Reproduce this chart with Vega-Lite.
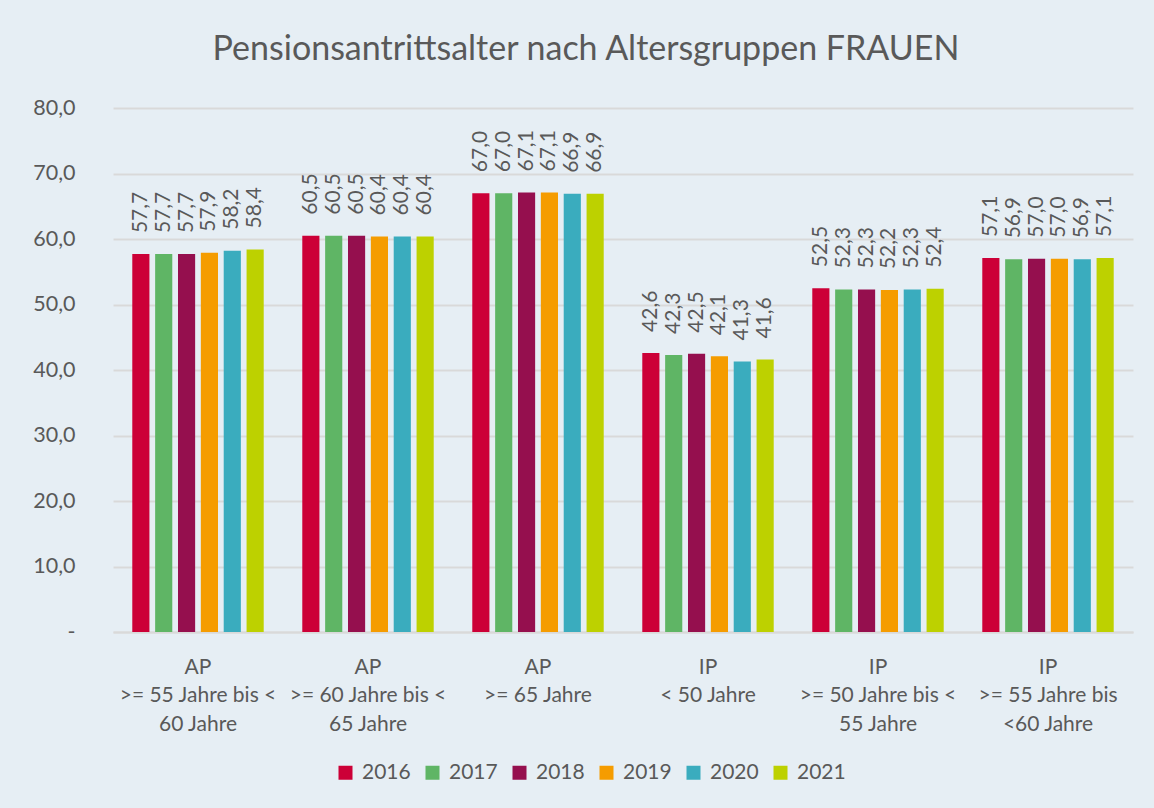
{
  "$schema": "https://vega.github.io/schema/vega-lite/v6.json",
  "width": 1020,
  "height": 524,
  "autosize": {"type": "none"},
  "padding": {"left": 113, "top": 108, "right": 21, "bottom": 176},
  "background": "#e6eef4",
  "title": {
    "text": "Pensionsantrittsalter nach Altersgruppen FRAUEN",
    "font": "Lato",
    "fontSize": 34,
    "fontWeight": "normal",
    "color": "#595959",
    "anchor": "middle",
    "dx": -37,
    "offset": 30
  },
  "data": {
    "values": [
      {"g": "AP|>= 55 Jahre bis <|60 Jahre", "year": "2016", "v": 57.7},
      {"g": "AP|>= 55 Jahre bis <|60 Jahre", "year": "2017", "v": 57.7},
      {"g": "AP|>= 55 Jahre bis <|60 Jahre", "year": "2018", "v": 57.7},
      {"g": "AP|>= 55 Jahre bis <|60 Jahre", "year": "2019", "v": 57.9},
      {"g": "AP|>= 55 Jahre bis <|60 Jahre", "year": "2020", "v": 58.2},
      {"g": "AP|>= 55 Jahre bis <|60 Jahre", "year": "2021", "v": 58.4},
      {"g": "AP|>= 60 Jahre bis <|65 Jahre", "year": "2016", "v": 60.5},
      {"g": "AP|>= 60 Jahre bis <|65 Jahre", "year": "2017", "v": 60.5},
      {"g": "AP|>= 60 Jahre bis <|65 Jahre", "year": "2018", "v": 60.5},
      {"g": "AP|>= 60 Jahre bis <|65 Jahre", "year": "2019", "v": 60.4},
      {"g": "AP|>= 60 Jahre bis <|65 Jahre", "year": "2020", "v": 60.4},
      {"g": "AP|>= 60 Jahre bis <|65 Jahre", "year": "2021", "v": 60.4},
      {"g": "AP|>= 65 Jahre", "year": "2016", "v": 67.0},
      {"g": "AP|>= 65 Jahre", "year": "2017", "v": 67.0},
      {"g": "AP|>= 65 Jahre", "year": "2018", "v": 67.1},
      {"g": "AP|>= 65 Jahre", "year": "2019", "v": 67.1},
      {"g": "AP|>= 65 Jahre", "year": "2020", "v": 66.9},
      {"g": "AP|>= 65 Jahre", "year": "2021", "v": 66.9},
      {"g": "IP|< 50 Jahre", "year": "2016", "v": 42.6},
      {"g": "IP|< 50 Jahre", "year": "2017", "v": 42.3},
      {"g": "IP|< 50 Jahre", "year": "2018", "v": 42.5},
      {"g": "IP|< 50 Jahre", "year": "2019", "v": 42.1},
      {"g": "IP|< 50 Jahre", "year": "2020", "v": 41.3},
      {"g": "IP|< 50 Jahre", "year": "2021", "v": 41.6},
      {"g": "IP|>= 50 Jahre bis <|55 Jahre", "year": "2016", "v": 52.5},
      {"g": "IP|>= 50 Jahre bis <|55 Jahre", "year": "2017", "v": 52.3},
      {"g": "IP|>= 50 Jahre bis <|55 Jahre", "year": "2018", "v": 52.3},
      {"g": "IP|>= 50 Jahre bis <|55 Jahre", "year": "2019", "v": 52.2},
      {"g": "IP|>= 50 Jahre bis <|55 Jahre", "year": "2020", "v": 52.3},
      {"g": "IP|>= 50 Jahre bis <|55 Jahre", "year": "2021", "v": 52.4},
      {"g": "IP|>= 55 Jahre bis|<60 Jahre", "year": "2016", "v": 57.1},
      {"g": "IP|>= 55 Jahre bis|<60 Jahre", "year": "2017", "v": 56.9},
      {"g": "IP|>= 55 Jahre bis|<60 Jahre", "year": "2018", "v": 57.0},
      {"g": "IP|>= 55 Jahre bis|<60 Jahre", "year": "2019", "v": 57.0},
      {"g": "IP|>= 55 Jahre bis|<60 Jahre", "year": "2020", "v": 56.9},
      {"g": "IP|>= 55 Jahre bis|<60 Jahre", "year": "2021", "v": 57.1}
    ]
  },
  "encoding": {
    "x": {
      "field": "g",
      "type": "nominal",
      "sort": null,
      "scale": {"paddingInner": 0.2, "paddingOuter": 0.1},
      "axis": {
        "title": null,
        "labelAngle": 0,
        "labelExpr": "split(datum.label, '|')",
        "labelFont": "Lato",
        "labelFontSize": 21,
        "labelLineHeight": 28.5,
        "labelColor": "#595959",
        "labelPadding": 24,
        "labelLimit": 300,
        "ticks": false,
        "domainColor": "#d9d9d9",
        "domainWidth": 2
      }
    },
    "xOffset": {
      "field": "year",
      "type": "nominal",
      "scale": {"paddingInner": 0.25, "paddingOuter": 0.1}
    },
    "y": {
      "field": "v",
      "type": "quantitative",
      "scale": {"domain": [0, 80]},
      "axis": {
        "title": null,
        "values": [0, 10, 20, 30, 40, 50, 60, 70, 80],
        "format": ".1f",
        "labelExpr": "datum.value == 0 ? '-' : datum.label",
        "labelFont": "Lato",
        "labelFontSize": 21.5,
        "labelColor": "#595959",
        "labelPadding": 38,
        "ticks": false,
        "domain": false,
        "gridColor": "#d9d9d9",
        "gridWidth": 2,
        "encode": {
          "labels": {
            "update": {
              "dx": {"signal": "datum.value == 0 ? -13 : 0"}
            }
          }
        }
      }
    },
    "color": {
      "field": "year",
      "type": "nominal",
      "scale": {
        "domain": ["2016", "2017", "2018", "2019", "2020", "2021"],
        "range": ["#cc0037", "#5fb565", "#950f4e", "#f59c00", "#3aacbe", "#bdd100"]
      },
      "legend": {
        "title": null,
        "orient": "none",
        "direction": "horizontal",
        "legendX": 222,
        "legendY": 654,
        "symbolType": "square",
        "symbolSize": 196,
        "symbolStrokeWidth": 0,
        "labelFont": "Lato",
        "labelFontSize": 21,
        "labelColor": "#595959",
        "labelOffset": 6,
        "columnPadding": 11
      }
    }
  },
  "layer": [
    {"mark": {"type": "bar"}},
    {
      "mark": {
        "type": "text",
        "angle": 270,
        "align": "left",
        "baseline": "middle",
        "dx": 21,
        "font": "Lato",
        "fontSize": 21,
        "color": "#595959"
      },
      "encoding": {
        "text": {"field": "v", "type": "quantitative", "format": ".1f"},
        "color": {"value": "#595959"}
      }
    }
  ],
  "config": {
    "locale": {"number": {"decimal": ",", "thousands": ".", "grouping": [3], "currency": ["", " €"]}},
    "view": {"stroke": null}
  }
}
